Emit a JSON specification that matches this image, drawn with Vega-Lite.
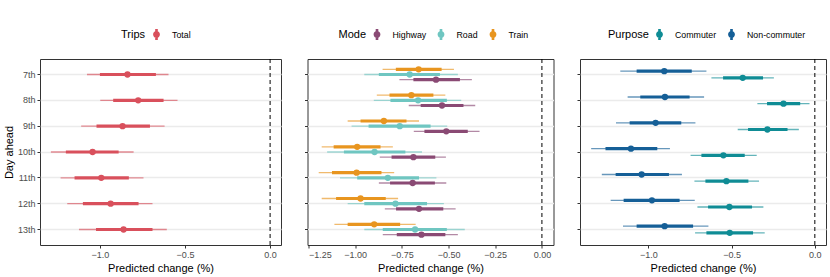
{
  "$schema": "https://vega.github.io/schema/vega-lite/v6.json",
  "background": "white",
  "padding": {"left": 2, "top": 28, "right": 5, "bottom": 5},
  "config": {
    "font": "Liberation Sans",
    "view": {"stroke": "#333333", "strokeWidth": 1},
    "axis": {
      "labelColor": "#4D4D4D", "labelFontSize": 9, "labelFont": "Liberation Sans",
      "titleFontSize": 11, "titleFontWeight": "normal", "titleColor": "#000000", "titleFont": "Liberation Sans",
      "tickColor": "#333333", "tickSize": 3, "domain": false,
      "gridColor": "#EBEBEB", "labelPadding": 2, "titlePadding": 3
    },
    "legend": {
      "direction": "horizontal", "titleOrient": "left",
      "titleFontSize": 11, "titleFontWeight": "normal", "titleColor": "#000000",
      "labelFontSize": 8.8, "labelColor": "#000000", "titlePadding": 5,
      "labelOffset": 10, "columnPadding": 9
    }
  },
  "datasets": {
    "trips": [
      {"group": "Total", "day": "7th", "est": -0.838, "lo66": -1.000, "hi66": -0.671, "lo95": -1.076, "hi95": -0.597},
      {"group": "Total", "day": "8th", "est": -0.775, "lo66": -0.922, "hi66": -0.626, "lo95": -0.998, "hi95": -0.544},
      {"group": "Total", "day": "9th", "est": -0.867, "lo66": -1.020, "hi66": -0.706, "lo95": -1.110, "hi95": -0.620},
      {"group": "Total", "day": "10th", "est": -1.043, "lo66": -1.200, "hi66": -0.890, "lo95": -1.288, "hi95": -0.802},
      {"group": "Total", "day": "11th", "est": -0.992, "lo66": -1.149, "hi66": -0.830, "lo95": -1.231, "hi95": -0.744},
      {"group": "Total", "day": "12th", "est": -0.937, "lo66": -1.100, "hi66": -0.773, "lo95": -1.192, "hi95": -0.691},
      {"group": "Total", "day": "13th", "est": -0.861, "lo66": -1.023, "hi66": -0.691, "lo95": -1.123, "hi95": -0.607}
    ],
    "mode": [
      {"group": "Train", "day": "7th", "est": -0.660, "lo66": -0.782, "hi66": -0.537, "lo95": -0.853, "hi95": -0.471},
      {"group": "Road", "day": "7th", "est": -0.708, "lo66": -0.873, "hi66": -0.546, "lo95": -0.951, "hi95": -0.450},
      {"group": "Highway", "day": "7th", "est": -0.567, "lo66": -0.688, "hi66": -0.439, "lo95": -0.763, "hi95": -0.375},
      {"group": "Train", "day": "8th", "est": -0.699, "lo66": -0.816, "hi66": -0.581, "lo95": -0.884, "hi95": -0.517},
      {"group": "Road", "day": "8th", "est": -0.663, "lo66": -0.811, "hi66": -0.509, "lo95": -0.900, "hi95": -0.432},
      {"group": "Highway", "day": "8th", "est": -0.535, "lo66": -0.649, "hi66": -0.420, "lo95": -0.713, "hi95": -0.357},
      {"group": "Train", "day": "9th", "est": -0.846, "lo66": -0.971, "hi66": -0.725, "lo95": -1.040, "hi95": -0.658},
      {"group": "Road", "day": "9th", "est": -0.761, "lo66": -0.928, "hi66": -0.596, "lo95": -1.019, "hi95": -0.507},
      {"group": "Highway", "day": "9th", "est": -0.512, "lo66": -0.629, "hi66": -0.397, "lo95": -0.686, "hi95": -0.334},
      {"group": "Train", "day": "10th", "est": -0.989, "lo66": -1.115, "hi66": -0.864, "lo95": -1.179, "hi95": -0.798},
      {"group": "Road", "day": "10th", "est": -0.896, "lo66": -1.060, "hi66": -0.731, "lo95": -1.150, "hi95": -0.642},
      {"group": "Highway", "day": "10th", "est": -0.688, "lo66": -0.805, "hi66": -0.571, "lo95": -0.868, "hi95": -0.514},
      {"group": "Train", "day": "11th", "est": -0.992, "lo66": -1.124, "hi66": -0.859, "lo95": -1.195, "hi95": -0.791},
      {"group": "Road", "day": "11th", "est": -0.825, "lo66": -0.989, "hi66": -0.658, "lo95": -1.081, "hi95": -0.565},
      {"group": "Highway", "day": "11th", "est": -0.692, "lo66": -0.813, "hi66": -0.573, "lo95": -0.873, "hi95": -0.512},
      {"group": "Train", "day": "12th", "est": -0.971, "lo66": -1.102, "hi66": -0.836, "lo95": -1.179, "hi95": -0.770},
      {"group": "Road", "day": "12th", "est": -0.784, "lo66": -0.951, "hi66": -0.615, "lo95": -1.040, "hi95": -0.525},
      {"group": "Highway", "day": "12th", "est": -0.658, "lo66": -0.781, "hi66": -0.528, "lo95": -0.841, "hi95": -0.462},
      {"group": "Train", "day": "13th", "est": -0.898, "lo66": -1.040, "hi66": -0.759, "lo95": -1.111, "hi95": -0.676},
      {"group": "Road", "day": "13th", "est": -0.679, "lo66": -0.852, "hi66": -0.509, "lo95": -0.951, "hi95": -0.413},
      {"group": "Highway", "day": "13th", "est": -0.645, "lo66": -0.777, "hi66": -0.517, "lo95": -0.852, "hi95": -0.450}
    ],
    "purpose": [
      {"group": "Non-commuter", "day": "7th", "est": -0.904, "lo66": -1.070, "hi66": -0.739, "lo95": -1.168, "hi95": -0.651},
      {"group": "Commuter", "day": "7th", "est": -0.433, "lo66": -0.551, "hi66": -0.311, "lo95": -0.621, "hi95": -0.246},
      {"group": "Non-commuter", "day": "8th", "est": -0.900, "lo66": -1.048, "hi66": -0.752, "lo95": -1.124, "hi95": -0.665},
      {"group": "Commuter", "day": "8th", "est": -0.188, "lo66": -0.287, "hi66": -0.088, "lo95": -0.345, "hi95": -0.032},
      {"group": "Non-commuter", "day": "9th", "est": -0.956, "lo66": -1.112, "hi66": -0.802, "lo95": -1.194, "hi95": -0.717},
      {"group": "Commuter", "day": "9th", "est": -0.285, "lo66": -0.401, "hi66": -0.164, "lo95": -0.463, "hi95": -0.096},
      {"group": "Non-commuter", "day": "10th", "est": -1.104, "lo66": -1.257, "hi66": -0.946, "lo95": -1.343, "hi95": -0.870},
      {"group": "Commuter", "day": "10th", "est": -0.549, "lo66": -0.681, "hi66": -0.421, "lo95": -0.746, "hi95": -0.349},
      {"group": "Non-commuter", "day": "11th", "est": -1.040, "lo66": -1.196, "hi66": -0.876, "lo95": -1.279, "hi95": -0.798},
      {"group": "Commuter", "day": "11th", "est": -0.531, "lo66": -0.657, "hi66": -0.399, "lo95": -0.723, "hi95": -0.335},
      {"group": "Non-commuter", "day": "12th", "est": -0.978, "lo66": -1.148, "hi66": -0.812, "lo95": -1.226, "hi95": -0.721},
      {"group": "Commuter", "day": "12th", "est": -0.513, "lo66": -0.641, "hi66": -0.377, "lo95": -0.705, "hi95": -0.309},
      {"group": "Non-commuter", "day": "13th", "est": -0.902, "lo66": -1.070, "hi66": -0.731, "lo95": -1.152, "hi95": -0.639},
      {"group": "Commuter", "day": "13th", "est": -0.511, "lo66": -0.651, "hi66": -0.371, "lo95": -0.719, "hi95": -0.301}
    ]
  },
  "spacing": 21.5,
  "resolve": {
    "scale": {"fill": "independent", "stroke": "independent", "x": "independent", "y": "independent", "yOffset": "independent"},
    "legend": {"fill": "independent", "stroke": "independent"},
    "axis": {"x": "independent", "y": "independent"}
  },
  "hconcat": [
    {
      "width": 241, "height": 186,
      "data": {"name": "trips"},
      "encoding": {
        "y": {"field": "day", "type": "ordinal", "sort": ["7th","8th","9th","10th","11th","12th","13th"],
              "scale": {"type": "band", "paddingInner": 0, "paddingOuter": 0.1},
              "axis": {"title": "Day ahead", "gridWidth": 1.3, "grid": true}}
      },
      "layer": [
        {"transform": [{"aggregate": [{"op": "count", "as": "n"}]}],
         "mark": {"type": "rule", "strokeDash": [4, 3], "color": "#000000", "strokeWidth": 1},
         "encoding": {"x": {"datum": 0, "type": "quantitative"}, "y": null}},
        {"mark": {"type": "rule", "strokeWidth": 1.4, "opacity": 0.65},
         "encoding": {
           "x": {"field": "lo95", "type": "quantitative",
                 "scale": {"domain": [-1.352, 0.064], "nice": false, "zero": false},
                 "axis": {"title": "Predicted change (%)", "values": [-1.25, -1, -0.75, -0.5, -0.25, 0],
                          "labelExpr": "abs(datum.value*2 - round(datum.value*2)) < 0.001 ? replace(format(datum.value, '.1f'), '-', '\u2212') : ''",
                          "tickOpacity": {"condition": {"test": "abs(datum.value*2 - round(datum.value*2)) > 0.001", "value": 0}, "value": 1}}},
           "x2": {"field": "hi95"},
           "stroke": {"field": "group", "type": "nominal", "scale": {"range": ["#D9505C"]}, "legend": null}
         }},
        {"mark": {"type": "rule", "strokeWidth": 3.2},
         "encoding": {
           "x": {"field": "lo66", "type": "quantitative"},
           "x2": {"field": "hi66"},
           "stroke": {"field": "group", "type": "nominal", "legend": null}
         }},
        {"mark": {"type": "point", "filled": true, "size": 40, "opacity": 1},
         "encoding": {
           "x": {"field": "est", "type": "quantitative"},
           "fill": {"field": "group", "type": "nominal", "scale": {"domain": ["Total"], "range": ["#D9505C"]},
                    "legend": {"title": "Trips", "orient": "none", "legendX": 81, "legendY": -30,
                               "symbolType": "M-0.24,-1L0.24,-1L0.24,1L-0.24,1Z M-0.62,0A0.62,0.62 0 1,1 0.62,0A0.62,0.62 0 1,1 -0.62,0Z",
                               "symbolSize": 121, "symbolStrokeWidth": 0, "symbolOpacity": 1}}
         }}
      ]
    },
    {
      "width": 246, "height": 186,
      "data": {"name": "mode"},
      "encoding": {
        "y": {"field": "day", "type": "ordinal", "sort": ["7th","8th","9th","10th","11th","12th","13th"],
              "scale": {"type": "band", "paddingInner": 0, "paddingOuter": 0.1},
              "axis": {"title": null, "labels": false, "gridWidth": 1.3, "grid": true}},
        "yOffset": {"field": "group", "type": "nominal", "sort": ["Train", "Road", "Highway"],
                    "scale": {"paddingInner": 0, "paddingOuter": 1.5}}
      },
      "layer": [
        {"transform": [{"aggregate": [{"op": "count", "as": "n"}]}],
         "mark": {"type": "rule", "strokeDash": [4, 3], "color": "#000000", "strokeWidth": 1},
         "encoding": {"x": {"datum": 0, "type": "quantitative"}, "y": null, "yOffset": null}},
        {"mark": {"type": "rule", "strokeWidth": 1.4, "opacity": 0.65},
         "encoding": {
           "x": {"field": "lo95", "type": "quantitative",
                 "scale": {"domain": [-1.255, 0.062], "nice": false, "zero": false},
                 "axis": {"title": "Predicted change (%)", "values": [-1.25, -1.125, -1, -0.875, -0.75, -0.625, -0.5, -0.375, -0.25, -0.125, 0],
                          "labelExpr": "abs(datum.value*4 - round(datum.value*4)) < 0.001 ? replace(format(datum.value, '.2f'), '-', '\u2212') : ''",
                          "tickOpacity": {"condition": {"test": "abs(datum.value*4 - round(datum.value*4)) > 0.001", "value": 0}, "value": 1}}},
           "x2": {"field": "hi95"},
           "stroke": {"field": "group", "type": "nominal", "scale": {"range": ["#8A4A74", "#6FC6C1", "#E8951F"]}, "legend": null}
         }},
        {"mark": {"type": "rule", "strokeWidth": 3.2},
         "encoding": {
           "x": {"field": "lo66", "type": "quantitative"},
           "x2": {"field": "hi66"},
           "stroke": {"field": "group", "type": "nominal", "legend": null}
         }},
        {"mark": {"type": "point", "filled": true, "size": 40, "opacity": 1},
         "encoding": {
           "x": {"field": "est", "type": "quantitative"},
           "fill": {"field": "group", "type": "nominal", "scale": {"domain": ["Highway", "Road", "Train"], "range": ["#8A4A74", "#6FC6C1", "#E8951F"]},
                    "legend": {"title": "Mode", "orient": "none", "legendX": 31, "legendY": -30,
                               "symbolType": "M-0.24,-1L0.24,-1L0.24,1L-0.24,1Z M-0.62,0A0.62,0.62 0 1,1 0.62,0A0.62,0.62 0 1,1 -0.62,0Z",
                               "symbolSize": 121, "symbolStrokeWidth": 0, "symbolOpacity": 1}}
         }}
      ]
    },
    {
      "width": 246, "height": 186,
      "data": {"name": "purpose"},
      "encoding": {
        "y": {"field": "day", "type": "ordinal", "sort": ["7th","8th","9th","10th","11th","12th","13th"],
              "scale": {"type": "band", "paddingInner": 0, "paddingOuter": 0.1},
              "axis": {"title": null, "labels": false, "gridWidth": 1.3, "grid": true}},
        "yOffset": {"field": "group", "type": "nominal", "sort": ["Non-commuter", "Commuter"],
                    "scale": {"paddingInner": 0, "paddingOuter": 0.94}}
      },
      "layer": [
        {"transform": [{"aggregate": [{"op": "count", "as": "n"}]}],
         "mark": {"type": "rule", "strokeDash": [4, 3], "color": "#000000", "strokeWidth": 1},
         "encoding": {"x": {"datum": 0, "type": "quantitative"}, "y": null, "yOffset": null}},
        {"mark": {"type": "rule", "strokeWidth": 1.4, "opacity": 0.65},
         "encoding": {
           "x": {"field": "lo95", "type": "quantitative",
                 "scale": {"domain": [-1.41, 0.067], "nice": false, "zero": false},
                 "axis": {"title": "Predicted change (%)", "values": [-1.25, -1, -0.75, -0.5, -0.25, 0],
                          "labelExpr": "abs(datum.value*2 - round(datum.value*2)) < 0.001 ? replace(format(datum.value, '.1f'), '-', '\u2212') : ''",
                          "tickOpacity": {"condition": {"test": "abs(datum.value*2 - round(datum.value*2)) > 0.001", "value": 0}, "value": 1}}},
           "x2": {"field": "hi95"},
           "stroke": {"field": "group", "type": "nominal", "scale": {"range": ["#0F8C95", "#155F97"]}, "legend": null}
         }},
        {"mark": {"type": "rule", "strokeWidth": 3.2},
         "encoding": {
           "x": {"field": "lo66", "type": "quantitative"},
           "x2": {"field": "hi66"},
           "stroke": {"field": "group", "type": "nominal", "legend": null}
         }},
        {"mark": {"type": "point", "filled": true, "size": 40, "opacity": 1},
         "encoding": {
           "x": {"field": "est", "type": "quantitative"},
           "fill": {"field": "group", "type": "nominal", "scale": {"domain": ["Commuter", "Non-commuter"], "range": ["#0F8C95", "#155F97"]},
                    "legend": {"title": "Purpose", "orient": "none", "legendX": 28, "legendY": -30,
                               "symbolType": "M-0.24,-1L0.24,-1L0.24,1L-0.24,1Z M-0.62,0A0.62,0.62 0 1,1 0.62,0A0.62,0.62 0 1,1 -0.62,0Z",
                               "symbolSize": 121, "symbolStrokeWidth": 0, "symbolOpacity": 1}}
         }}
      ]
    }
  ]
}
